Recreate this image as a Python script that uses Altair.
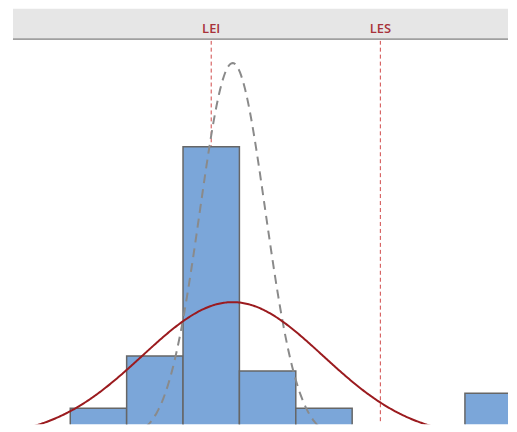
import numpy as np
import pandas as pd
import altair as alt

# Histogram (bin edges and counts)
bin_start = [0.75, 1.25, 1.75, 2.25, 2.75, 3.25, 3.75, 4.25]
bin_end = [1.25, 1.75, 2.25, 2.75, 3.25, 3.75, 4.25, 4.75]
counts = [4, 11, 39, 9, 4, 0, 0, 6]

# Specification limits
spec_names = ["LEI", "LES"]
spec_values = [2.0, 3.5]

# Fitted normal curves (parameters)
mean = 2.19
sigma_overall = 0.80
sigma_within = 0.29
n_total = sum(counts)
bin_width = 0.5

x_domain = [0.242, 4.632]
y_domain = [1.867, 53.2]

W = 497
H_HEAD = 31
H_PLOT = 385

bars = pd.DataFrame({"start": bin_start, "end": bin_end, "count": counts})
specs = pd.DataFrame({"name": spec_names, "value": spec_values})

xs = np.linspace(x_domain[0], x_domain[1], 400)
def npdf(x, m, s):
    return np.exp(-0.5 * ((x - m) / s) ** 2) / (s * np.sqrt(2 * np.pi))
curves = pd.DataFrame({
    "x": xs,
    "overall": n_total * bin_width * npdf(xs, mean, sigma_overall),
    "within": n_total * bin_width * npdf(xs, mean, sigma_within),
})

xscale = alt.Scale(domain=x_domain, nice=False, zero=False)
yscale = alt.Scale(domain=y_domain, nice=False, zero=False)

# Header band
head_text = alt.Chart(specs).mark_text(
    font="Open Sans", fontSize=13, fontWeight=600, color="#a8323a",
    baseline="alphabetic", align="center"
).encode(
    x=alt.X("value:Q", scale=xscale, axis=None),
    y=alt.value(24),
    text="name:N",
)
head_line = alt.Chart(specs).mark_rule(color="#a0a0a0", strokeWidth=1.5).encode(
    x=alt.value(0), x2=alt.value(W), y=alt.value(H_HEAD - 0.5)
)
header = alt.layer(head_line, head_text).properties(
    width=W, height=H_HEAD, view=alt.ViewConfig(fill="#e6e6e6", stroke=None)
)

# Main plot
vlines = alt.Chart(specs).mark_rule(
    color="#d04848", strokeWidth=1, strokeDash=[4, 3], clip=True
).encode(x=alt.X("value:Q", scale=xscale, axis=None))

hist = alt.Chart(bars).transform_calculate(zero="0").mark_rect(
    fill="#7ba6d9", stroke="#666666", strokeWidth=1.5, clip=True
).encode(
    x=alt.X("start:Q", scale=xscale, axis=None),
    x2="end:Q",
    y=alt.Y("count:Q", scale=yscale, axis=None),
    y2="zero:Q",
)

within = alt.Chart(curves).mark_line(
    color="#8a8a8a", strokeWidth=2, strokeDash=[9, 6], clip=True
).encode(
    x=alt.X("x:Q", scale=xscale, axis=None),
    y=alt.Y("within:Q", scale=yscale, axis=None),
)

overall = alt.Chart(curves).mark_line(
    color="#9b1b1f", strokeWidth=2, clip=True
).encode(
    x=alt.X("x:Q", scale=xscale, axis=None),
    y=alt.Y("overall:Q", scale=yscale, axis=None),
)

plot = alt.layer(vlines, hist, within, overall).properties(
    width=W, height=H_PLOT, view=alt.ViewConfig(stroke=None)
)

chart = alt.vconcat(header, plot, spacing=0).properties(
    padding={"left": 4, "top": 0, "right": 0, "bottom": 0}
).configure_view(stroke=None)

chart.save("out.html", embed_options={"renderer": "svg", "actions": False})
